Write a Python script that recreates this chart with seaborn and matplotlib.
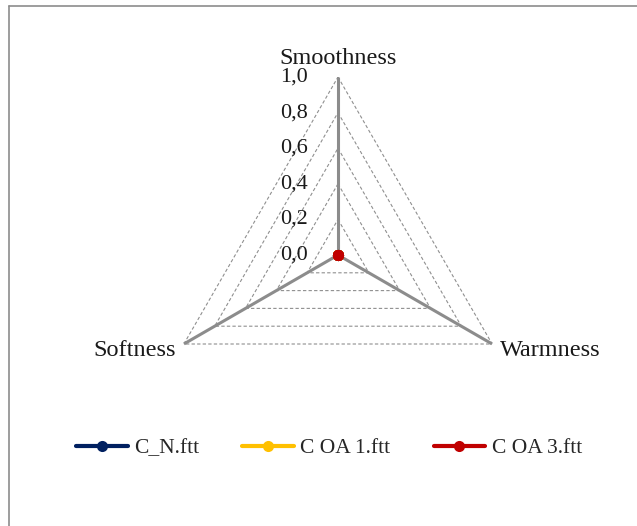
import numpy as np
import pandas as pd
import matplotlib
matplotlib.use("Agg")
import matplotlib.pyplot as plt
from matplotlib.lines import Line2D
import seaborn as sns

# Radar data: three attributes, three samples
categories = ["Smoothness", "Warmness", "Softness"]
series_names = ["C_N.ftt", "C OA 1.ftt", "C OA 3.ftt"]
c_n_values = [0.0, 0.0, 0.0]
c_oa1_values = [0.0, 0.0, 0.0]
c_oa3_values = [0.0, 0.0, 0.0]
radial_ticks = [0.0, 0.2, 0.4, 0.6, 0.8, 1.0]
radial_tick_labels = ["0,0", "0,2", "0,4", "0,6", "0,8", "1,0"]
colors = ["#002060", "#FFC000", "#C00000"]

sns.set_style("white")
plt.rcParams["font.family"] = ["Liberation Serif", "DejaVu Serif"]

W, H = 637, 526
fig = plt.figure(figsize=(W / 100, H / 100), dpi=100)

# polar axes centred at (338, 255) px with radius 178 px
cx, cy, R = 338, 255, 178
ax = fig.add_axes([(cx - R) / W, (H - cy - R) / H, 2 * R / W, 2 * R / H],
                  projection="polar")
ax.set_theta_offset(np.pi / 2)
ax.set_theta_direction(-1)
ax.set_ylim(0, 1)
ax.grid(False)
ax.spines["polar"].set_visible(False)
ax.set_xticks([])
ax.set_yticks([])
ax.patch.set_alpha(0)

n = len(categories)
angles = np.linspace(0, 2 * np.pi, n, endpoint=False)
closed = np.append(angles, angles[0])

# dashed triangular grid rings
for lvl in radial_ticks[1:]:
    ax.plot(closed, [lvl] * (n + 1), color="#8f8f8f", lw=0.8,
            ls=(0, (3, 2)), zorder=1)

# solid spokes
for a in angles:
    ax.plot([a, a], [0, 1], color="#8c8c8c", lw=2.2, zorder=2,
            solid_capstyle="butt")

# series
values = [c_n_values, c_oa1_values, c_oa3_values]
rows = []
for name, vals in zip(series_names, values):
    vv = list(vals) + [vals[0]]
    for k, (t, v) in enumerate(zip(closed, vv)):
        rows.append({"series": name, "theta": t, "value": v, "order": k})
df = pd.DataFrame(rows)
for name, col in zip(series_names, colors):
    sub = df[df["series"] == name]
    sns.lineplot(data=sub, x="theta", y="value", ax=ax, color=col,
                 lw=3, marker="o", markersize=8, markeredgewidth=0,
                 sort=False, estimator=None, legend=False, zorder=5)
ax.set_xlabel("")
ax.set_ylabel("")
ax.set_ylim(0, 1)

# radial tick labels on the top spoke
for t, lab in zip(radial_ticks, radial_tick_labels):
    ax.annotate(lab, xy=(0, t), xytext=(-30, 0), textcoords="offset pixels",
                ha="right", va="center", fontsize=16, color="#1a1a1a",
                annotation_clip=False)

# category labels
ax.annotate(categories[0], xy=(angles[0], 1), xytext=(0, 8),
            textcoords="offset pixels", ha="center", va="bottom",
            fontsize=17.5, color="#1a1a1a", annotation_clip=False)
ax.annotate(categories[1], xy=(angles[1], 1), xytext=(8, -6),
            textcoords="offset pixels", ha="left", va="center",
            fontsize=17.5, color="#1a1a1a", annotation_clip=False)
ax.annotate(categories[2], xy=(angles[2], 1), xytext=(-8, -6),
            textcoords="offset pixels", ha="right", va="center",
            fontsize=17.5, color="#1a1a1a", annotation_clip=False)

# legend
handles = [Line2D([0], [0], color=c, lw=3, marker="o", markersize=8,
                  markeredgewidth=0) for c in colors]
fig.legend(handles, series_names, loc="center", ncol=3, frameon=False,
           bbox_to_anchor=(329 / W, (H - 448) / H), fontsize=15.5,
           handlelength=2.4, handletextpad=0.3, columnspacing=2.0)

# chart-area border (left and top edges)
fig.add_artist(Line2D([8.5 / W, 8.5 / W], [0, (H - 5.5) / H],
                      transform=fig.transFigure, color="#8c8c8c", lw=1.2))
fig.add_artist(Line2D([8.5 / W, 1], [(H - 5.5) / H, (H - 5.5) / H],
                      transform=fig.transFigure, color="#8c8c8c", lw=1.2))

fig.savefig("out.png", dpi=100, facecolor="white")
